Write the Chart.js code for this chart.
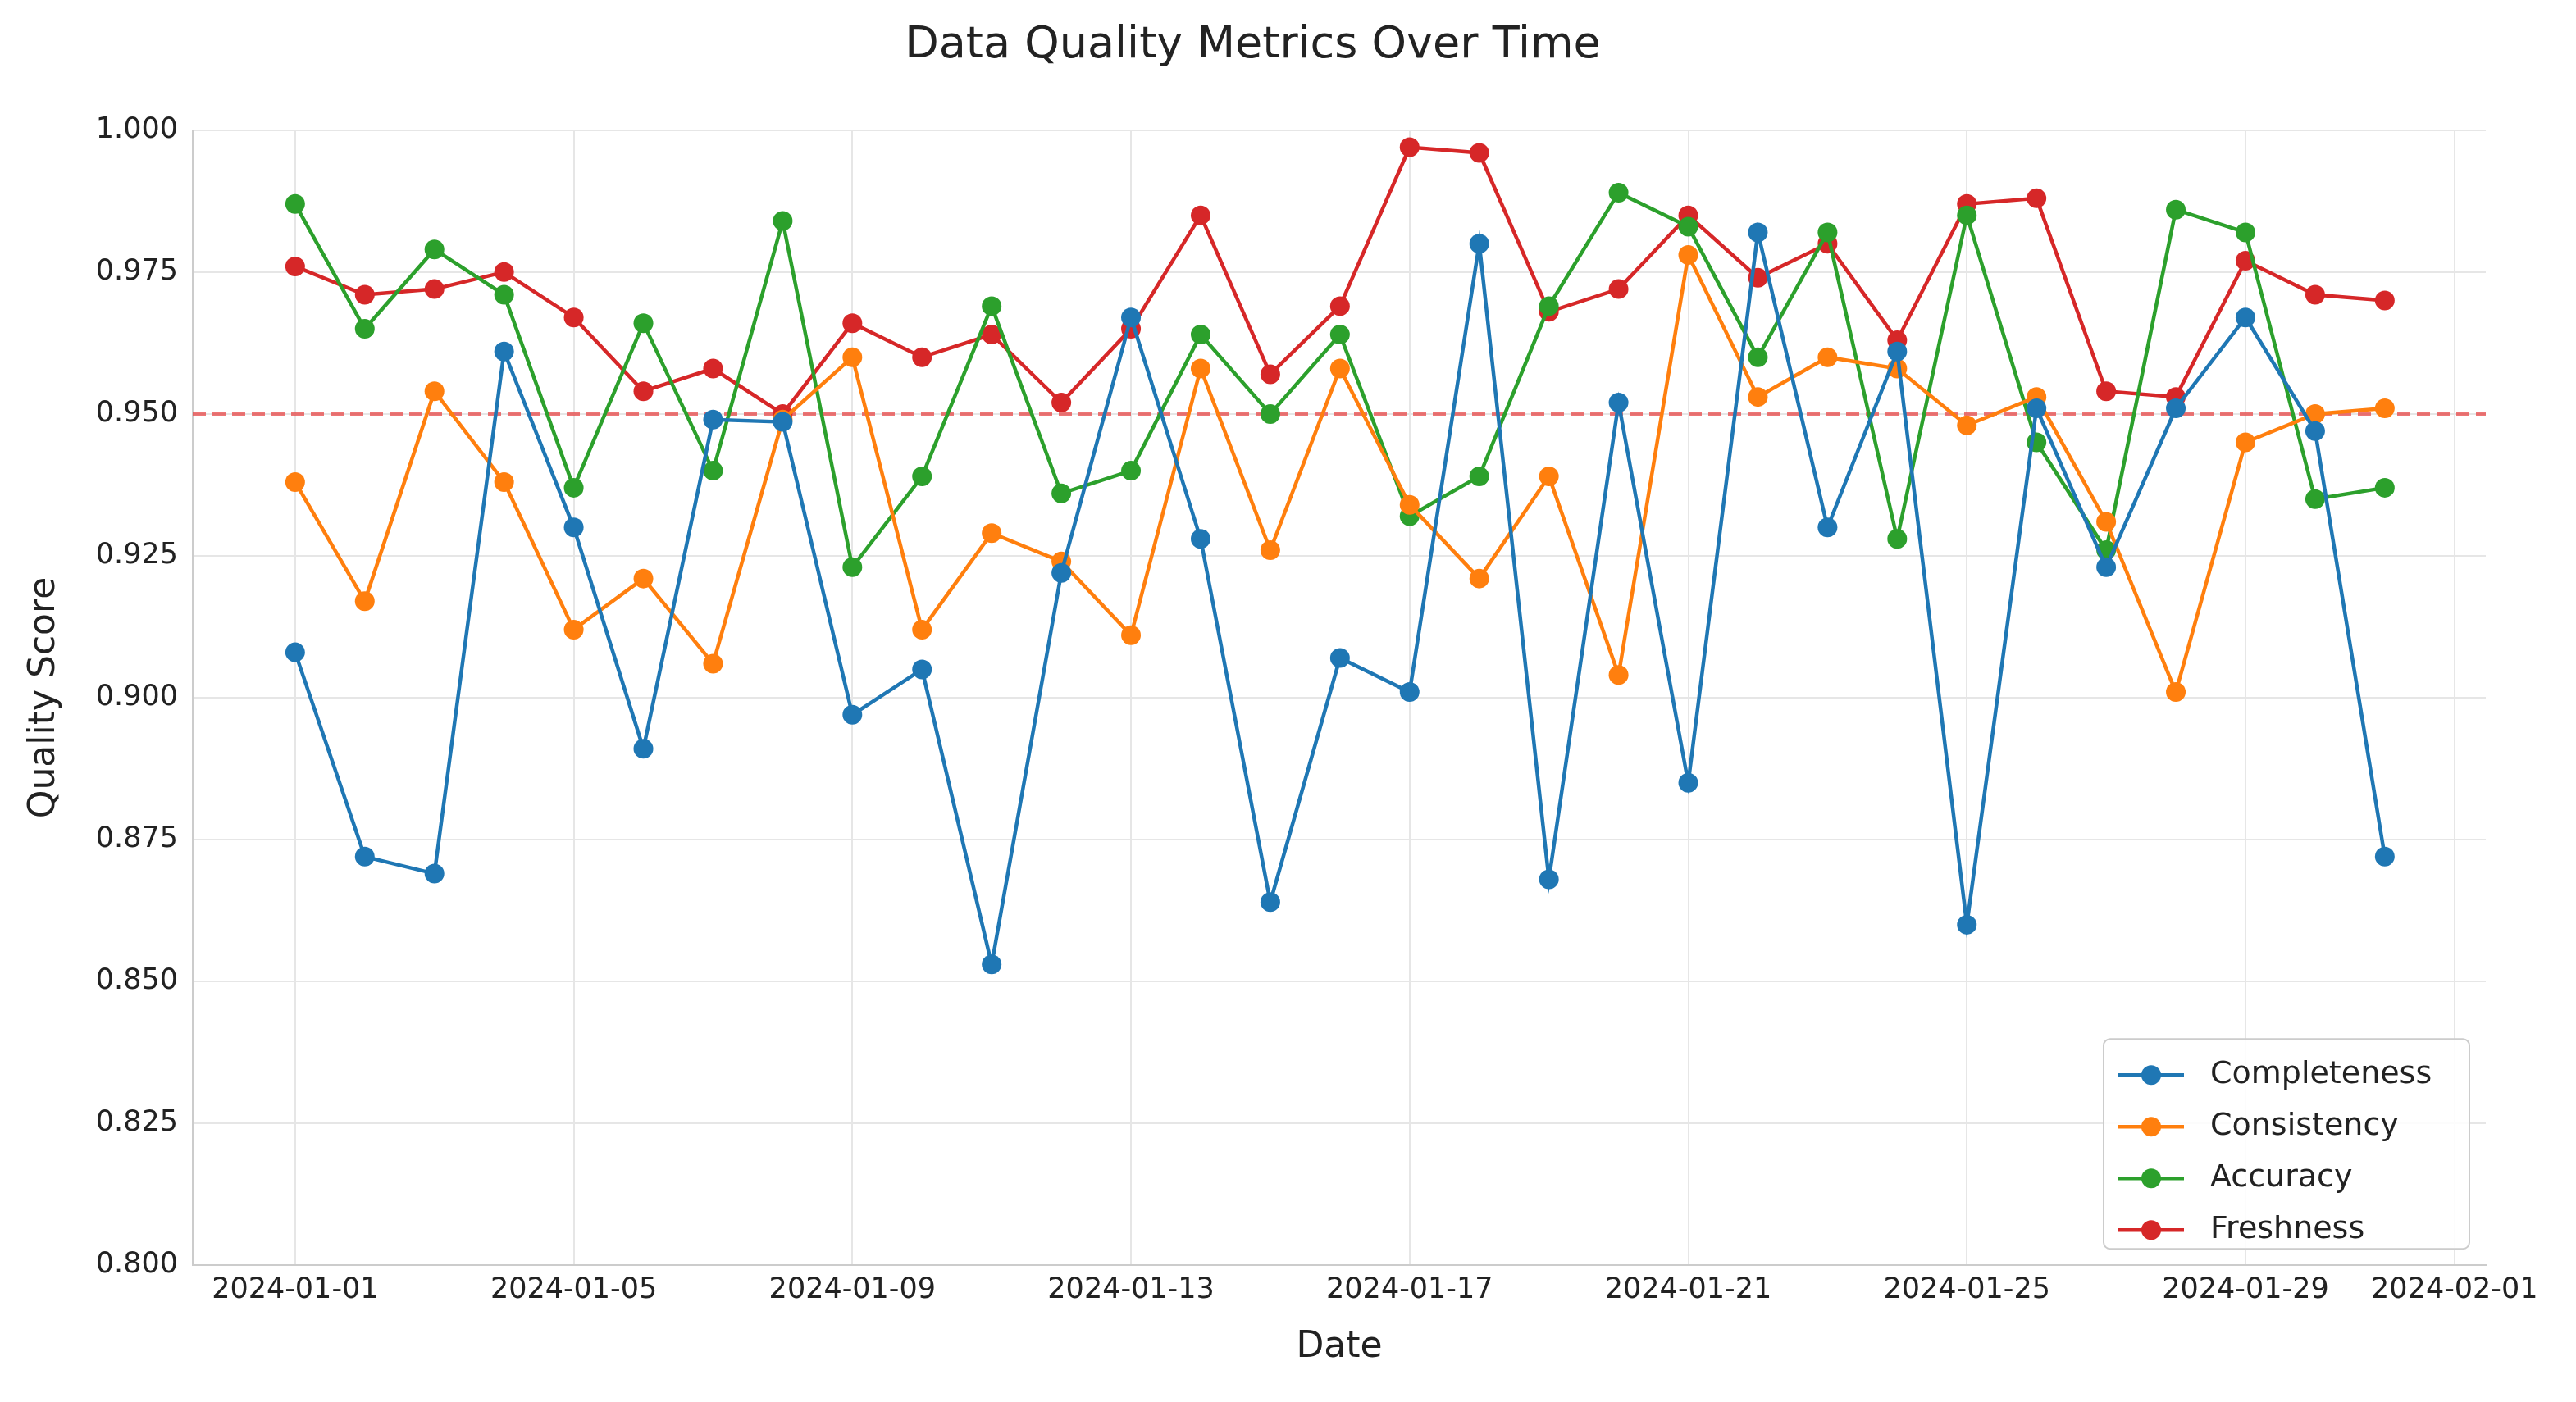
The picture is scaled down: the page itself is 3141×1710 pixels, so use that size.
<!DOCTYPE html>
<html><head><meta charset="utf-8">
<script src="https://cdn.jsdelivr.net/npm/chart.js@4"></script>
<style>html,body{margin:0;padding:0;background:#fff}#w{width:3141px;height:1710px}</style>
</head><body><div id="w"><canvas id="c"></canvas></div>
<script>
const completeness=[0.908,0.872,0.869,0.961,0.930,0.891,0.949,0.9486,0.897,0.905,0.853,0.922,0.967,0.928,0.864,0.907,0.901,0.980,0.868,0.952,0.885,0.982,0.930,0.961,0.860,0.951,0.923,0.951,0.967,0.947,0.872];
const consistency=[0.938,0.917,0.954,0.938,0.912,0.921,0.906,0.949,0.960,0.912,0.929,0.924,0.911,0.958,0.926,0.958,0.934,0.921,0.939,0.904,0.978,0.953,0.960,0.958,0.948,0.953,0.931,0.901,0.945,0.950,0.951];
const accuracy=[0.987,0.965,0.979,0.971,0.937,0.966,0.940,0.984,0.923,0.939,0.969,0.936,0.940,0.964,0.950,0.964,0.932,0.939,0.969,0.989,0.983,0.960,0.982,0.928,0.985,0.945,0.926,0.986,0.982,0.935,0.937];
const freshness=[0.976,0.971,0.972,0.975,0.967,0.954,0.958,0.950,0.966,0.960,0.964,0.952,0.965,0.985,0.957,0.969,0.997,0.996,0.968,0.972,0.985,0.974,0.980,0.963,0.987,0.988,0.954,0.953,0.977,0.971,0.970];
const threshold=0.95;
const xTickDays=[0,4,8,12,16,20,24,28,31];
const xTickLabels=['2024-01-01','2024-01-05','2024-01-09','2024-01-13','2024-01-17','2024-01-21','2024-01-25','2024-01-29','2024-02-01'];
const yTicks=[0.800,0.825,0.850,0.875,0.900,0.925,0.950,0.975,1.000];
const names=['Completeness','Consistency','Accuracy','Freshness'];
const colors=['#1f77b4','#ff7f0e','#2ca02c','#d62728'];
const series=[completeness,consistency,accuracy,freshness];
const F='DejaVu Sans';
const ds=series.map((s,k)=>({label:names[k],data:s.map((v,i)=>({x:i,y:v})),borderColor:colors[k],backgroundColor:colors[k],borderWidth:4.5,pointRadius:12,pointHoverRadius:12,pointBorderWidth:0,tension:0}));
ds.push({label:'_th',data:[{x:-1.47,y:threshold},{x:31.45,y:threshold}],borderColor:'rgba(230,60,60,0.7)',borderDash:[16,8],borderWidth:4,pointRadius:0});
const legendPlugin={id:'lg',afterDraw(ch){
 const c=ch.ctx,a=ch.chartArea;const w=446,h=256,x=a.right-w-20,y=a.bottom-h-20;
 c.save();c.fillStyle='rgba(255,255,255,0.85)';c.strokeStyle='#ccc';c.lineWidth=2;
 c.beginPath();c.roundRect(x,y,w,h,8);c.fill();c.stroke();
 c.font='38px '+F;c.textBaseline='middle';
 names.forEach((n,k)=>{const yy=y+44+k*63;c.strokeStyle=colors[k];c.lineWidth=4.5;c.beginPath();c.moveTo(x+18,yy);c.lineTo(x+98,yy);c.stroke();
 c.fillStyle=colors[k];c.beginPath();c.arc(x+58,yy,12,0,7);c.fill();c.fillStyle='#222';c.fillText(n,x+130,yy);});
 c.restore();}};
new Chart(document.getElementById('c'),{type:'line',data:{datasets:ds},plugins:[legendPlugin],
options:{responsive:true,maintainAspectRatio:false,animation:false,devicePixelRatio:1,
layout:{padding:{left:24,right:110,top:14,bottom:36}},
plugins:{legend:{display:false},tooltip:{enabled:false},
 title:{display:true,text:'Data Quality Metrics Over Time',font:{family:F,size:54,weight:'normal'},color:'#222',padding:{top:10,bottom:70}}},
scales:{
 x:{type:'linear',min:-1.47,max:31.45,
  afterBuildTicks:ax=>{ax.ticks=xTickDays.map(v=>({value:v}));},
  ticks:{callback:(v)=>xTickLabels[xTickDays.indexOf(v)],font:{family:F,size:35},color:'#222',maxRotation:0,autoSkip:false,padding:10},
  grid:{color:'#e6e6e6',lineWidth:2,drawTicks:false},border:{color:'#ccc',width:2},
  title:{display:true,text:'Date',font:{family:F,size:44},color:'#222',padding:{top:12}}},
 y:{min:0.8,max:1.0,
  afterBuildTicks:ax=>{ax.ticks=yTicks.map(v=>({value:v}));},
  ticks:{callback:v=>v.toFixed(3),font:{family:F,size:35},color:'#222',padding:18},
  grid:{color:'#e6e6e6',lineWidth:2,drawTicks:false},border:{color:'#ccc',width:2},
  title:{display:true,text:'Quality Score',font:{family:F,size:44},color:'#222',padding:{bottom:18}}}}}});
</script></body></html>
